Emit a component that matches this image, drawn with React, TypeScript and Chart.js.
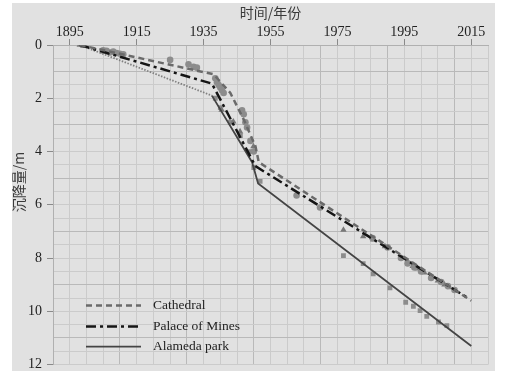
import React, { useEffect, useRef } from "react";
import { Chart, registerables } from "chart.js";

Chart.register(...registerables);

// ---- Data ----
const xTitle = "时间/年份";
const yTitle = "沉降量/m";
const xTickLabels = [1895, 1915, 1935, 1955, 1975, 1995, 2015];
const yTickLabels = [0, 2, 4, 6, 8, 10, 12];

const seriesNames = ["Cathedral", "Palace of Mines", "Alameda park"];

// trend lines (year, subsidence m)
const cathedralLineX = [1898, 1938, 1943, 1947, 1950.5, 1951.5, 2015];
const cathedralLineY = [0, 1.1, 1.8, 2.8, 3.8, 4.4, 9.6];
const palaceLineX = [1898, 1937.5, 1950.5, 2014];
const palaceLineY = [0, 1.45, 4.55, 9.5];
const alamedaLineX = [1898, 1937.5, 1949.5, 1951.3, 2015];
const alamedaLineY = [0, 1.9, 4.4, 5.2, 11.3];

// observations
const cathedralObsX = [1905, 1906, 1907, 1908, 1909, 1910, 1911, 1925, 1930.5, 1932, 1933, 1938.5, 1939, 1939.5, 1940, 1940.5, 1941, 1946.5, 1947, 1947.5, 1948, 1949, 1950, 1962.8, 1969.8, 1985.5, 1990, 1994, 1996, 1998, 2000, 2003, 2006, 2008, 2010];
const cathedralObsY = [0.2, 0.22, 0.28, 0.25, 0.3, 0.33, 0.35, 0.56, 0.72, 0.82, 0.85, 1.25, 1.4, 1.5, 1.6, 1.7, 1.8, 2.45, 2.6, 2.9, 3.1, 3.6, 4.0, 5.65, 6.1, 7.25, 7.6, 8.0, 8.2, 8.35, 8.5, 8.75, 8.9, 9.05, 9.2];
const palaceObsX = [1898, 1899, 1905, 1908, 1940.4, 1943.9, 1945.9, 1949.9, 1976.8, 1982.7, 1985.7, 1989.2, 1994, 1996, 1997.5, 1999, 2001, 2003, 2005, 2007, 2008.5];
const palaceObsY = [0, 0.02, 0.25, 0.3, 2.44, 2.88, 3.25, 3.81, 6.94, 7.19, 7.31, 7.56, 8.0, 8.15, 8.3, 8.4, 8.55, 8.7, 8.85, 9.0, 9.1];
const alamedaObsX = [1899, 1938.5, 1940, 1943, 1946, 1948.5, 1950, 1951.9, 1976.8, 1982.7, 1985.7, 1990.7, 1995.4, 1997.7, 1999.7, 2001.7, 2005.2, 2007.7];
const alamedaObsY = [0.02, 2.0, 2.35, 2.9, 3.4, 4.0, 4.6, 5.12, 7.91, 8.21, 8.59, 9.12, 9.66, 9.81, 9.97, 10.19, 10.4, 10.54];

const pts = (xs: number[], ys: number[]) => xs.map((x, i) => ({ x, y: ys[i] }));

const serif = "'Liberation Serif', 'Noto Sans CJK SC', serif";
const cjk = "'Noto Sans CJK SC', 'Liberation Serif', sans-serif";

const decorPlugin = {
  id: "decor",
  beforeDraw(chart: any) {
    const { ctx } = chart;
    ctx.save();
    ctx.fillStyle = "#ffffff";
    ctx.fillRect(0, 0, chart.width, chart.height);
    ctx.fillStyle = "#e1e1e1";
    ctx.fillRect(12, 3, 483, 368);
    ctx.restore();
  },
  afterDraw(chart: any) {
    const { ctx, chartArea } = chart;
    ctx.save();
    // axis titles
    ctx.fillStyle = "#3a3a3a";
    ctx.font = `14px ${cjk}`;
    ctx.textAlign = "center";
    ctx.textBaseline = "middle";
    ctx.fillText(xTitle, (chartArea.left + chartArea.right) / 2, 13);
    ctx.save();
    ctx.translate(19, 182);
    ctx.rotate(-Math.PI / 2);
    ctx.fillText(yTitle, 0, 0);
    ctx.restore();
    // legend
    const rows = [chartArea.bottom - 59, chartArea.bottom - 38, chartArea.bottom - 18];
    const x0 = chartArea.left + 33;
    for (let i = 0; i < 3; i++) {
      const ds = chart.data.datasets[i];
      const y = rows[i];
      ctx.beginPath();
      ctx.strokeStyle = ds.borderColor;
      ctx.lineWidth = ds.borderWidth;
      ctx.setLineDash(ds.borderDash || []);
      ctx.moveTo(x0, y);
      ctx.lineTo(x0 + 55, y);
      ctx.stroke();
      ctx.setLineDash([]);
      ctx.fillStyle = "#222";
      ctx.font = `13.5px ${serif}`;
      ctx.textAlign = "left";
      ctx.textBaseline = "middle";
      ctx.fillText(ds.label, x0 + 67, y);
    }
    ctx.restore();
  },
};

export default function App() {
  const ref = useRef<HTMLCanvasElement | null>(null);
  useEffect(() => {
    if (!ref.current) return;
    const chart = new Chart(ref.current, {
      type: "scatter",
      data: {
        datasets: [
          {
            type: "line",
            label: seriesNames[0],
            data: pts(cathedralLineX, cathedralLineY),
            borderColor: "#6a6a6a",
            borderWidth: 2.5,
            borderDash: [6, 4],
            pointRadius: 0,
            showLine: true,
            tension: 0,
            fill: false,
          },
          {
            type: "line",
            label: seriesNames[1],
            data: pts(palaceLineX, palaceLineY),
            borderColor: "#151515",
            borderWidth: 2.5,
            borderDash: [10, 4, 3, 4],
            pointRadius: 0,
            showLine: true,
            tension: 0,
            fill: false,
          },
          {
            type: "line",
            label: seriesNames[2],
            data: pts(alamedaLineX, alamedaLineY),
            borderColor: "#444444",
            borderWidth: 1.8,
            pointRadius: 0,
            showLine: true,
            tension: 0,
            fill: false,
            segment: {
              borderDash: (c: any) => (c.p0DataIndex === 0 ? [1.5, 1.5] : undefined),
              borderColor: (c: any) => (c.p0DataIndex === 0 ? "#808080" : undefined),
            },
          },
          {
            label: seriesNames[0] + " obs",
            data: pts(cathedralObsX, cathedralObsY),
            pointStyle: "circle",
            pointRadius: 3.3,
            backgroundColor: "#8c8c8c",
            borderColor: "#8c8c8c",
            borderWidth: 0,
          },
          {
            label: seriesNames[1] + " obs",
            data: pts(palaceObsX, palaceObsY),
            pointStyle: "triangle",
            pointRadius: 3.7,
            backgroundColor: "#777777",
            borderColor: "#777777",
            borderWidth: 0,
          },
          {
            label: seriesNames[2] + " obs",
            data: pts(alamedaObsX, alamedaObsY),
            pointStyle: "rect",
            pointRadius: 3.4,
            backgroundColor: "#8c8c8c",
            borderColor: "#8c8c8c",
            borderWidth: 0,
          },
        ],
      },
      options: {
        responsive: false,
        animation: false,
        layout: { padding: { left: 0, top: 0, right: 18, bottom: 13 } },
        plugins: { legend: { display: false }, tooltip: { enabled: false } },
        scales: {
          x: {
            type: "linear",
            position: "top",
            min: 1890,
            max: 2020,
            afterFit: (s: any) => {
              s.height = 45;
            },
            ticks: {
              stepSize: 5,
              autoSkip: false,
              maxRotation: 0,
              padding: -2,
              color: "#222",
              font: { family: serif, size: 14 },
              callback: (v: any) => (xTickLabels.includes(Number(v)) ? String(v) : ""),
            },
            grid: {
              color: (c: any) => (c.tick && ((c.tick.value - 1890) % 20 === 0 && c.tick.value !== 1890) ? "#b9b9b9" : "#cbcbcb"),
              tickColor: (c: any) => (c.tick && xTickLabels.includes(c.tick.value) ? "#8a8a8a" : "rgba(0,0,0,0)"),
              tickLength: 6,
              lineWidth: 1,
            },
            border: { color: "#b0b0b0" },
          },
          y: {
            type: "linear",
            reverse: true,
            min: 0,
            max: 12,
            afterFit: (s: any) => {
              s.width = 53;
            },
            ticks: {
              stepSize: 0.5,
              autoSkip: false,
              padding: 5,
              color: "#222",
              font: { family: serif, size: 14 },
              callback: (v: any) => (yTickLabels.includes(Number(v)) ? String(v) : ""),
            },
            grid: {
              color: (c: any) => (c.tick && c.tick.value % 2 === 1 ? "#b9b9b9" : "#cbcbcb"),
              tickColor: (c: any) => (c.tick && yTickLabels.includes(c.tick.value) ? "#8a8a8a" : "rgba(0,0,0,0)"),
              tickLength: 6,
              lineWidth: 1,
            },
            border: { color: "#b0b0b0" },
          },
        },
      },
      plugins: [decorPlugin],
    } as any);
    return () => chart.destroy();
  }, []);
  return (
    <div style={{ position: "fixed", left: 0, top: 0, width: 506, height: 378, background: "#fff" }}>
      <canvas ref={ref} width={506} height={378} style={{ display: "block", width: 506, height: 378 }} />
    </div>
  );
}
